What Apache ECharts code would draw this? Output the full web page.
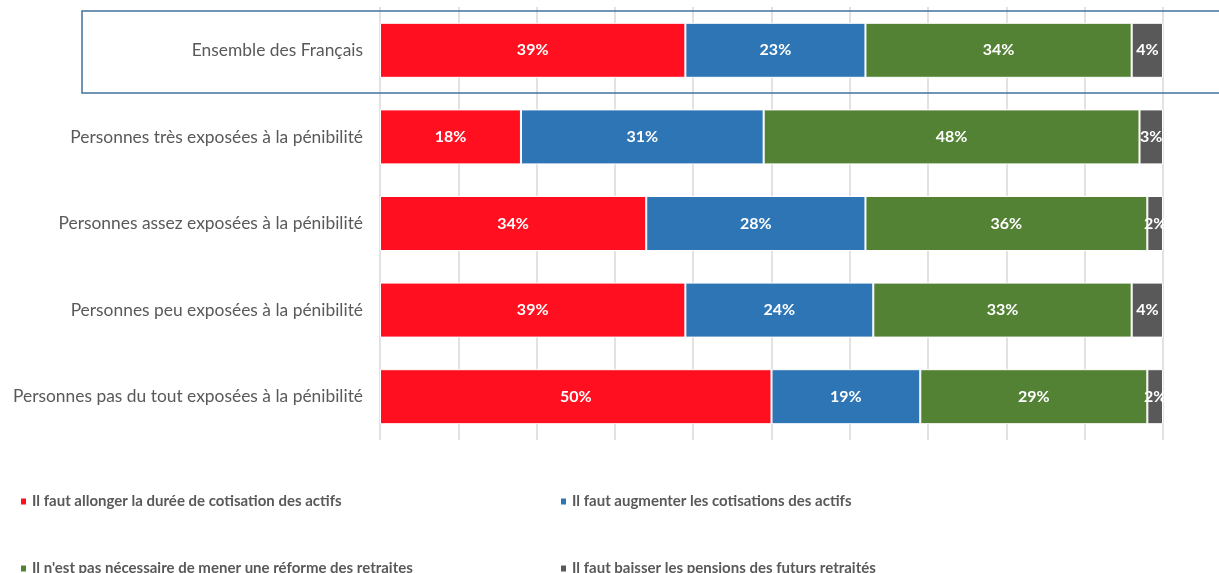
<!DOCTYPE html>
<html>
<head>
<meta charset="utf-8">
<script src="https://cdn.jsdelivr.net/npm/echarts@6/dist/echarts.min.js"></script>
<style>
html,body{margin:0;padding:0;background:#fff;}
#c{width:1219px;height:573px;}
</style>
</head>
<body>
<div id="c"></div>
<script>
const categories = [
  "Ensemble des Français",
  "Personnes très exposées à la pénibilité",
  "Personnes assez exposées à la pénibilité",
  "Personnes peu exposées à la pénibilité",
  "Personnes pas du tout exposées à la pénibilité"
];
const seriesNames = [
  "Il faut allonger la durée de cotisation des actifs",
  "Il faut augmenter les cotisations des actifs",
  "Il n'est pas nécessaire de mener une réforme des retraites",
  "Il faut baisser les pensions des futurs retraités"
];
const allonger = [39, 18, 34, 39, 50];
const augmenter = [23, 31, 28, 24, 19];
const pasReforme = [34, 48, 36, 33, 29];
const baisser = [4, 3, 2, 4, 2];
const colors = ["#FF0F1F", "#2E75B6", "#548235", "#595959"];

const FONT = "Lato, 'Open Sans', sans-serif";
const values = [allonger, augmenter, pasReforme, baisser];

const chart = echarts.init(document.getElementById('c'), null, {renderer: 'canvas'});

const series = values.map((v, i) => ({
  name: seriesNames[i],
  type: 'bar',
  stack: 'total',
  barWidth: 55,
  data: v,
  itemStyle: {color: colors[i], borderColor: '#ffffff', borderWidth: 1},
  label: {
    show: true,
    position: 'inside',
    formatter: p => p.value + '%',
    color: '#ffffff',
    fontFamily: FONT,
    fontWeight: 'bold',
    fontSize: 16
  }
}));

const legendPos = [
  {left: 14, top: 489},
  {left: 554, top: 489},
  {left: 14, top: 556},
  {left: 554, top: 556}
];
const legends = seriesNames.map((n, i) => ({
  data: [n],
  left: legendPos[i].left,
  top: legendPos[i].top,
  icon: 'rect',
  itemWidth: 7,
  itemHeight: 8,
  itemGap: 6,
  selectedMode: false,
  textStyle: {color: '#595959', fontFamily: FONT, fontWeight: 'bold', fontSize: 15}
}));

chart.setOption({
  animation: false,
  backgroundColor: '#ffffff',
  grid: {left: 380, right: 56, top: 7, height: 433, containLabel: false},
  xAxis: {
    type: 'value',
    min: 0, max: 100, interval: 10,
    axisLabel: {show: false},
    axisLine: {show: false},
    axisTick: {show: false},
    splitLine: {show: true, lineStyle: {color: '#D9D9D9', width: 1.5}}
  },
  yAxis: {
    type: 'category',
    inverse: true,
    data: categories,
    axisLine: {show: false},
    axisTick: {show: false},
    axisLabel: {color: '#595959', fontFamily: FONT, fontSize: 17.4, margin: 17}
  },
  legend: legends,
  series: series,
  graphic: [{
    type: 'rect',
    z: 100,
    shape: {x: 82, y: 11, width: 1160, height: 82},
    style: {fill: 'none', stroke: '#41719C', lineWidth: 1.5}
  }]
});
</script>
</body>
</html>
